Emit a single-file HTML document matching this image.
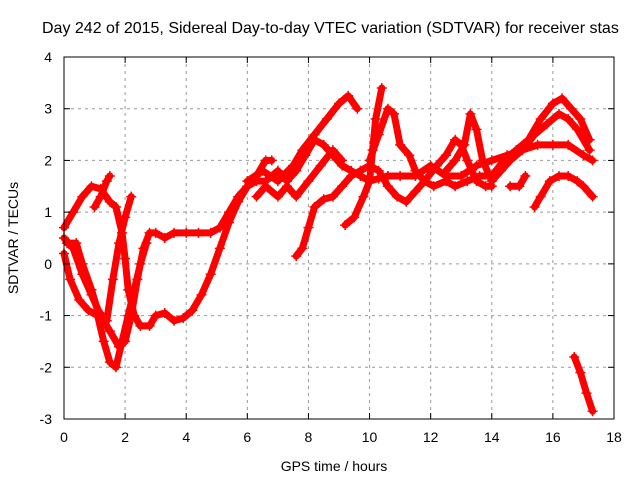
<!DOCTYPE html>
<html><head><meta charset="utf-8"><style>
body{margin:0;background:#fff}
svg text{font-family:"Liberation Sans",sans-serif;font-size:14px;fill:#000}
</style></head><body>
<svg id="chart" width="640" height="480" xmlns="http://www.w3.org/2000/svg">
<rect width="640" height="480" fill="#fff"/>
<text x="42" y="33" style="font-size:16px">Day 242 of 2015, Sidereal Day-to-day VTEC variation (SDTVAR) for receiver stas</text>
<g id="grid"></g>
<g id="series"></g>
<g id="axes"></g>
<text x="334" y="471" text-anchor="middle">GPS time / hours</text>
<text transform="translate(18,238) rotate(-90)" text-anchor="middle">SDTVAR / TECUs</text>
</svg>
<script>
const xTicks=[0,2,4,6,8,10,12,14,16,18];
const yTicks=[-3,-2,-1,0,1,2,3,4];
const t1=[[0,0.7],[0.3,1.0],[0.6,1.3],[0.9,1.5],[1.2,1.45],[1.5,1.2],[1.7,1.1],[1.9,0.6],[2.0,0.1],[2.1,-0.5],[2.3,-1.0],[2.5,-1.2],[2.8,-1.2],[3.0,-1.0],[3.3,-0.95],[3.6,-1.1],[3.9,-1.05],[4.2,-0.9],[4.5,-0.6],[4.8,-0.2],[5.1,0.3],[5.4,0.8],[5.7,1.2],[6.0,1.5],[6.3,1.7],[6.6,2.0],[6.8,2.0]];
const t2=[[0,0.5],[0.3,0.3],[0.6,-0.2],[0.9,-0.6],[1.2,-1.0],[1.5,-1.3],[1.8,-1.6],[2.0,-1.5],[2.2,-1.0],[2.4,-0.3],[2.6,0.3],[2.8,0.6],[3.0,0.6],[3.3,0.5],[3.6,0.6],[4.0,0.6],[4.4,0.6],[4.8,0.6],[5.1,0.7],[5.4,1.0],[5.7,1.3],[6.0,1.5],[6.3,1.6],[6.6,1.6],[7.0,1.8],[7.3,1.6],[7.6,1.8],[7.9,2.1],[8.2,2.4],[8.5,2.3],[8.8,2.1],[9.1,1.9],[9.4,1.8],[9.7,1.7],[10.0,1.6],[10.3,1.65],[10.6,1.7]];
const t3=[[0,0.2],[0.2,-0.3],[0.5,-0.7],[0.8,-0.9],[1.1,-1.0],[1.3,-1.5],[1.5,-1.9],[1.7,-2.0],[1.9,-1.5],[2.1,-1.0],[2.3,-0.5],[2.5,0.0],[2.7,0.4]];
const t4=[[0.1,0.4],[0.4,0.4],[0.6,0.0],[0.9,-0.5],[1.1,-0.9],[1.4,-1.1],[1.6,-0.3],[1.8,0.4],[2.0,0.9],[2.2,1.3]];
const t5=[[1.0,1.1],[1.2,1.3],[1.4,1.6],[1.5,1.7]];
const t6=[[7.6,0.15],[7.8,0.3],[8.0,0.7],[8.2,1.1],[8.5,1.25],[8.8,1.3],[9.1,1.5],[9.4,1.7],[9.7,1.8],[10.0,1.9],[10.3,1.8],[10.6,1.5],[10.9,1.3],[11.2,1.2],[11.5,1.4],[11.8,1.6],[12.1,1.5],[12.5,1.6],[12.8,1.5],[13.2,1.6],[13.6,1.7],[14.0,1.7],[14.4,2.0],[14.8,2.2],[15.2,2.4],[15.6,2.8],[16.0,3.1],[16.3,3.2],[16.6,3.0],[16.9,2.8],[17.2,2.4]];
const t7=[[9.2,0.75],[9.5,0.9],[9.8,1.3],[10.0,1.6],[10.1,2.2],[10.2,2.8],[10.4,3.4]];
const t8=[[6.0,1.6],[6.5,1.8],[7.0,1.6],[7.5,1.9],[7.8,2.2],[8.2,2.5],[8.6,2.8],[9.0,3.1],[9.3,3.25],[9.6,3.0]];
const t9=[[10.0,2.0],[10.3,2.5],[10.6,3.0],[10.8,2.9],[11.0,2.3],[11.3,2.1],[11.5,1.8],[11.8,1.6],[12.2,1.9],[12.5,2.1],[12.8,2.4],[13.0,2.3],[13.2,2.0],[13.5,1.6],[13.8,1.5],[14.0,1.5]];
const t10=[[12.5,1.8],[12.8,2.0],[13.1,2.3],[13.3,2.9],[13.5,2.6],[13.7,2.0],[14.0,1.6],[14.3,1.8],[14.6,2.0],[15.0,2.2],[15.4,2.5],[15.8,2.7],[16.2,2.9],[16.5,2.8],[16.8,2.6],[17.2,2.2]];
const t11=[[15.4,1.1],[15.6,1.3],[15.9,1.6],[16.2,1.7],[16.5,1.7],[16.8,1.6],[17.0,1.5],[17.3,1.3]];
const t12=[[16.7,-1.8],[16.9,-2.1],[17.1,-2.5],[17.3,-2.85]];
const t13=[[10.6,1.7],[11.0,1.7],[11.5,1.7],[12.0,1.9],[12.5,1.7],[13.0,1.7],[13.5,1.9],[14.0,2.0],[14.5,2.1],[15.0,2.2],[15.5,2.3],[16.0,2.3],[16.5,2.3],[17.0,2.1],[17.3,2.0]];
const t14=[[6.3,1.3],[6.6,1.5],[7.0,1.3],[7.3,1.5],[7.6,1.3],[8.0,1.6],[8.4,1.9],[8.8,2.2],[9.1,2.0]];
const t15=[[14.6,1.5],[14.9,1.5],[15.1,1.7]];
const allSeries=[t1,t2,t3,t4,t5,t6,t7,t8,t9,t10,t11,t12,t13,t14,t15];
const L=64,R=614,T=57,B=419,xMin=0,xMax=18,yMin=-3,yMax=4;
function xs(v){return L+(v-xMin)/(xMax-xMin)*(R-L);}
function ys(v){return B-(v-yMin)/(yMax-yMin)*(B-T);}
const NS='http://www.w3.org/2000/svg';
function mk(tag,attrs,parent){const e=document.createElementNS(NS,tag);for(const k in attrs)e.setAttribute(k,attrs[k]);parent.appendChild(e);return e;}
const grid=document.getElementById('grid'),axes=document.getElementById('axes'),ser=document.getElementById('series');
xTicks.forEach(t=>{const x=xs(t);
 if(t>xMin&&t<xMax){const g=mk('line',{x1:x,x2:x,y1:T,y2:B,stroke:'#999','stroke-dasharray':'3,4'},grid);
 
 }
 mk('line',{x1:x,x2:x,y1:B,y2:B-6,stroke:'#000'},axes);mk('line',{x1:x,x2:x,y1:T,y2:T+6,stroke:'#000'},axes);
 const tx=mk('text',{x:x,y:B+23,'text-anchor':'middle'},axes);tx.textContent=t;
 
 });
yTicks.forEach(t=>{const y=ys(t);
 if(t>yMin&&t<yMax){const g=mk('line',{x1:L,x2:R,y1:y,y2:y,stroke:'#999','stroke-dasharray':'3,4'},grid);
 
 }
 mk('line',{x1:L,x2:L+6,y1:y,y2:y,stroke:'#000'},axes);mk('line',{x1:R,x2:R-6,y1:y,y2:y,stroke:'#000'},axes);
 const tx=mk('text',{x:L-12,y:y+5,'text-anchor':'end'},axes);tx.textContent=t;
 
 });
const frame=mk('rect',{x:L,y:T,width:R-L,height:B-T,fill:'none',stroke:'#000'},axes);


allSeries.forEach((s,i)=>{
 const pts=s.map(p=>xs(p[0])+','+ys(p[1])).join(' ');
 const pl=mk('polyline',{points:pts,fill:'none',stroke:'#f00','stroke-width':7,'stroke-linejoin':'round','stroke-linecap':'round'},ser);
 
 
 s.forEach(p=>{const x=xs(p[0]),y=ys(p[1]);
  const m=mk('path',{d:`M${x-5},${y}H${x+5}M${x},${y-5}V${y+5}`,stroke:'#f00','stroke-width':1.5},ser);
  
  });
});
</script>
</body></html>
